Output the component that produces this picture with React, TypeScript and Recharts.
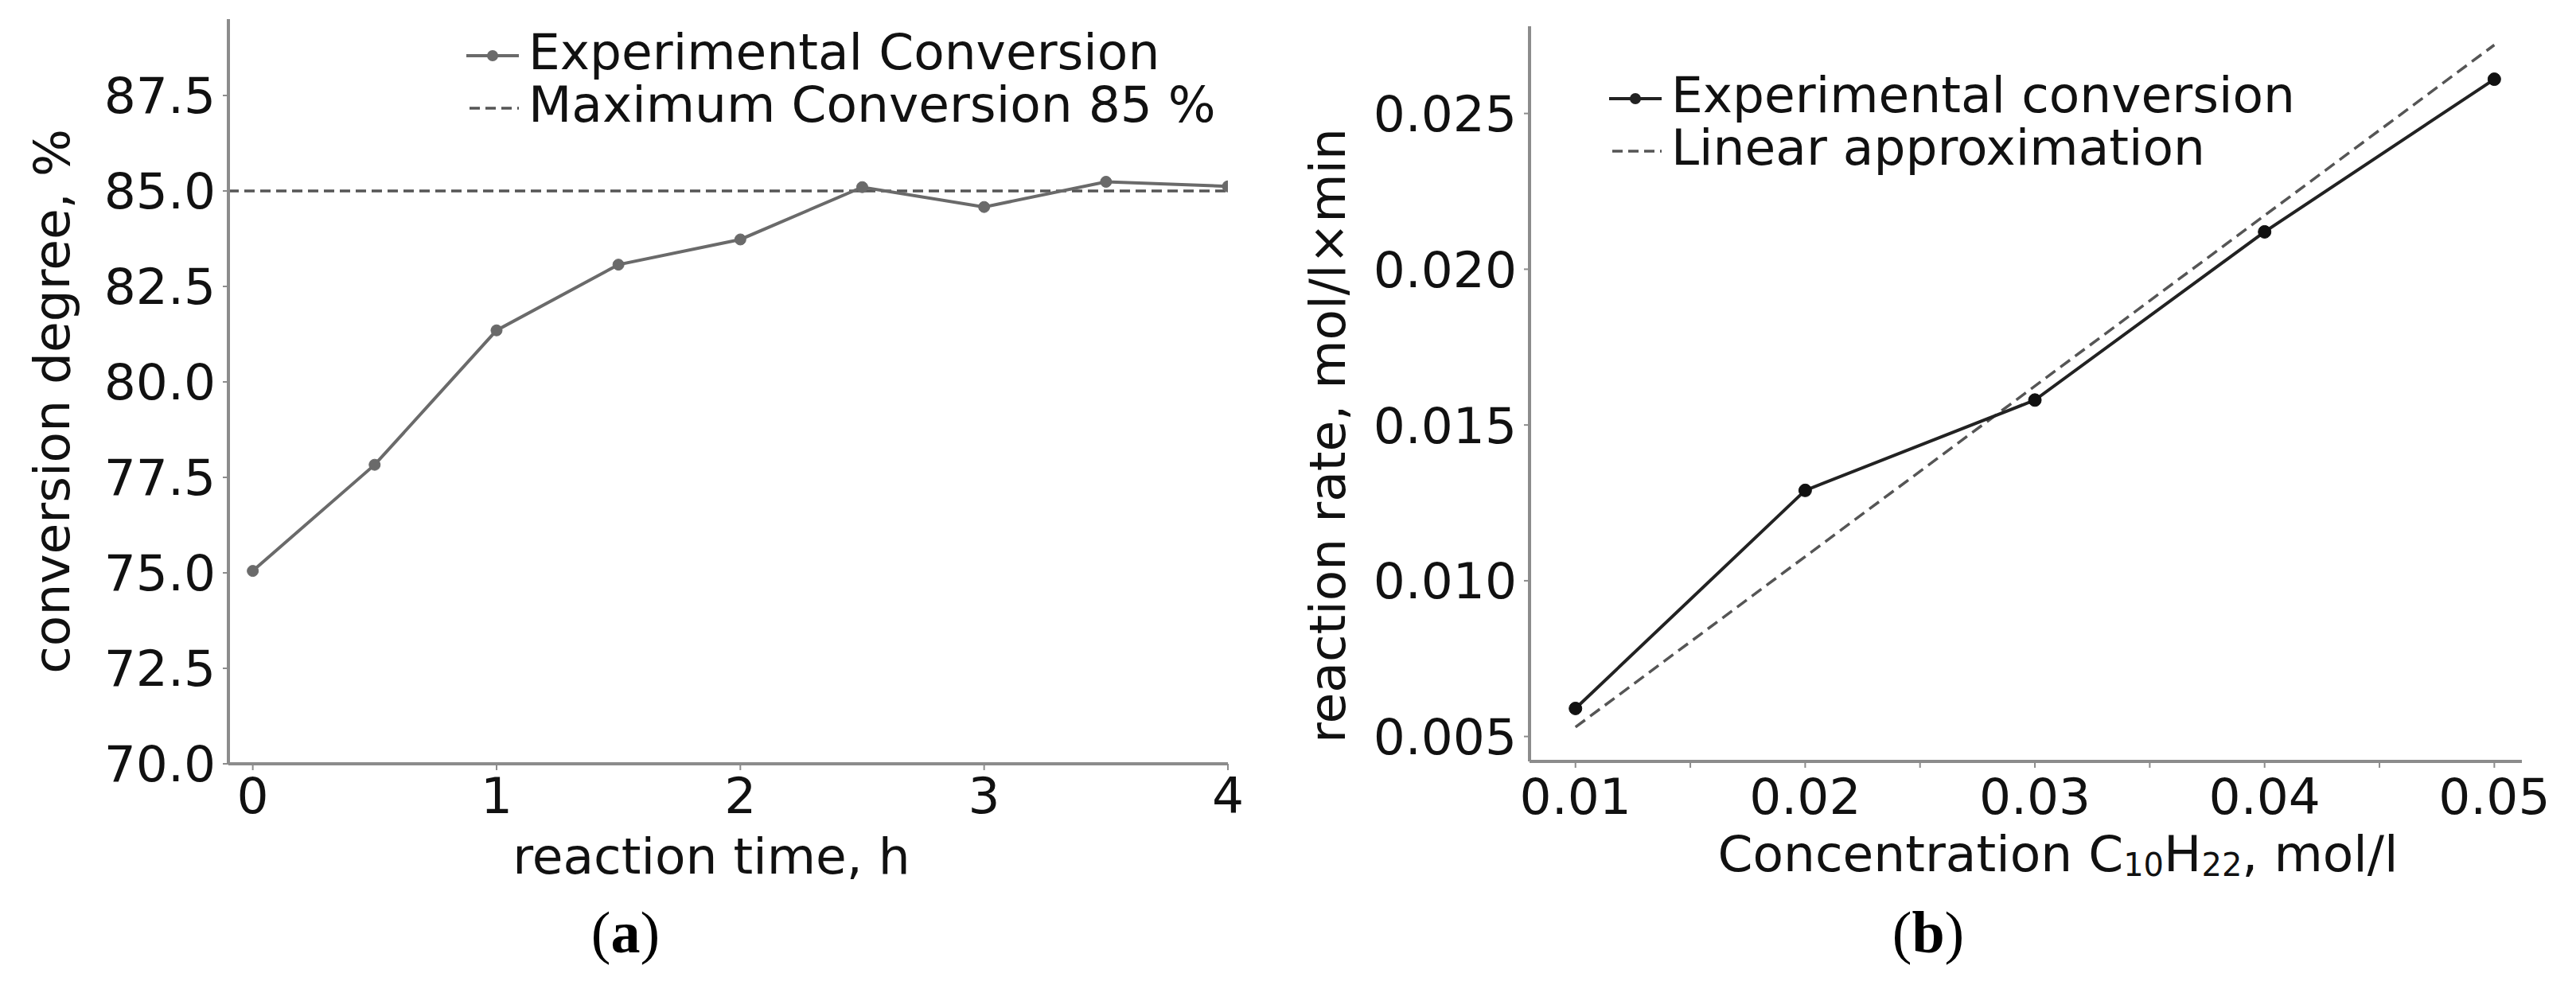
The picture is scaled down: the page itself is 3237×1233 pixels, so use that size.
import React from 'react';
import { LineChart, Line, XAxis, YAxis, ReferenceLine } from 'recharts';

// ---------- Data (a) ----------
const timeHours = [0, 0.5, 1, 1.5, 2, 2.5, 3, 3.5, 4];
const conversionPct = [75.05, 77.83, 81.35, 83.07, 83.73, 85.1, 84.58, 85.24, 85.12];
const maxConversion = 85;
const timeTicks = [0, 1, 2, 3, 4];
const convTicks = [70, 72.5, 75, 77.5, 80, 82.5, 85, 87.5];

// ---------- Data (b) ----------
const concentration = [0.01, 0.02, 0.03, 0.04, 0.05];
const reactionRate = [0.0059, 0.0129, 0.0158, 0.0212, 0.0261];
const linearX = [0.01, 0.05];
const linearY = [0.0053, 0.0272];
const concTicks = [0.01, 0.015, 0.02, 0.025, 0.03, 0.035, 0.04, 0.045, 0.05];
const rateTicks = [0.005, 0.01, 0.015, 0.02, 0.025];

const dataA = timeHours.map((t, i) => ({ t, conv: conversionPct[i] }));
const dataB = concentration.map((c, i) => ({ c, rate: reactionRate[i] }));
const dataLin = linearX.map((c, i) => ({ c, lin: linearY[i] }));

const FONT = 'DejaVu Sans';
const FS = 63;
const AXIS = '#8c8c8c';
const TXT = '#111';

const tickStyle = { fill: TXT, fontSize: FS, fontFamily: FONT };

function Txt({ left, top, children, style }: any) {
  return (
    <div
      style={{
        position: 'absolute',
        left,
        top,
        fontFamily: FONT,
        fontSize: FS,
        lineHeight: FS + 'px',
        color: TXT,
        whiteSpace: 'nowrap',
        ...style,
      }}
    >
      {children}
    </div>
  );
}

function CenterTxt({ cx, baseline, children }: any) {
  return (
    <Txt left={cx - 600} top={baseline - 53} style={{ width: 1200, textAlign: 'center' }}>
      {children}
    </Txt>
  );
}

function VertTxt({ cx, cy, children }: any) {
  return (
    <Txt
      left={cx - 600}
      top={cy - FS / 2}
      style={{ width: 1200, textAlign: 'center', transform: 'rotate(-90deg)', transformOrigin: '50% 50%' }}
    >
      {children}
    </Txt>
  );
}

function LegendRow({ left, baseline, kind, color, label }: any) {
  const markY = 36;
  return (
    <div style={{ position: 'absolute', left, top: baseline - 53, height: FS, display: 'flex', alignItems: 'flex-start' }}>
      <svg width={70} height={FS} style={{ display: 'block' }}>
        {kind === 'dot' ? (
          <g>
            <line x1={2} x2={68} y1={markY} y2={markY} stroke={color} strokeWidth={4} />
            <circle cx={35} cy={markY} r={7} fill={color} />
          </g>
        ) : (
          <line x1={6} x2={68} y1={markY} y2={markY} stroke={color} strokeWidth={3.5} strokeDasharray="13 7" />
        )}
      </svg>
      <span style={{ fontFamily: FONT, fontSize: FS, lineHeight: FS + 'px', color: TXT, whiteSpace: 'nowrap', marginLeft: 10 }}>
        {label}
      </span>
    </div>
  );
}

function Caption({ cx, letter }: any) {
  return (
    <div
      style={{
        position: 'absolute',
        left: cx - 100,
        top: 1135,
        width: 200,
        textAlign: 'center',
        fontFamily: 'Liberation Serif',
        fontSize: 74,
        lineHeight: '74px',
        color: '#000',
      }}
    >
      (<b>{letter}</b>)
    </div>
  );
}

const subStyle: any = { fontSize: 40, position: 'relative', top: 6 };

export default function App() {
  return (
    <div style={{ position: 'absolute', left: 0, top: 0, width: 3237, height: 1233, background: '#fff', overflow: 'hidden' }}>
      {/* Chart (a) */}
      <div style={{ position: 'absolute', left: 0, top: 0 }}>
        <LineChart width={1600} height={1233} data={dataA} margin={{ top: 24, left: 87, right: 57, bottom: 173 }}>
          <XAxis
            dataKey="t"
            type="number"
            domain={[-0.1, 4]}
            allowDataOverflow
            ticks={timeTicks}
            interval={0}
            height={100}
            axisLine={{ stroke: AXIS, strokeWidth: 4 }}
            tickLine={{ stroke: AXIS, strokeWidth: 2 }}
            tickSize={8}
            tickMargin={9}
            tick={tickStyle}
          />
          <YAxis
            type="number"
            domain={[70, 89.5]}
            allowDataOverflow
            ticks={convTicks}
            interval={0}
            width={200}
            axisLine={{ stroke: AXIS, strokeWidth: 4 }}
            tickLine={{ stroke: AXIS, strokeWidth: 2 }}
            tickSize={7}
            tickMargin={9}
            tick={tickStyle}
            tickFormatter={(v: number) => v.toFixed(1)}
          />
          <ReferenceLine y={maxConversion} stroke="#555" strokeWidth={3.5} strokeDasharray="13 7" />
          <Line
            type="linear"
            dataKey="conv"
            stroke="#6a6a6a"
            strokeWidth={4}
            dot={{ r: 7, fill: '#6a6a6a', stroke: '#6a6a6a', strokeWidth: 1 }}
            isAnimationActive={false}
          />
        </LineChart>
      </div>

      {/* Chart (b) */}
      <div style={{ position: 'absolute', left: 1600, top: 0 }}>
        <LineChart width={1637} height={1233} margin={{ top: 33, left: 122, right: 68, bottom: 176 }}>
          <XAxis
            dataKey="c"
            type="number"
            domain={[0.008, 0.0512]}
            allowDataOverflow
            ticks={concTicks}
            interval={0}
            height={100}
            axisLine={{ stroke: AXIS, strokeWidth: 4 }}
            tickLine={{ stroke: AXIS, strokeWidth: 2 }}
            tickSize={8}
            tickMargin={13}
            tick={tickStyle}
            tickFormatter={(v: number) => (Math.round(v * 1000) % 10 === 0 ? v.toFixed(2) : '')}
          />
          <YAxis
            type="number"
            domain={[0.0042, 0.0278]}
            allowDataOverflow
            ticks={rateTicks}
            interval={0}
            width={200}
            axisLine={{ stroke: AXIS, strokeWidth: 4 }}
            tickLine={{ stroke: AXIS, strokeWidth: 2 }}
            tickSize={7}
            tickMargin={9}
            tick={tickStyle}
            tickFormatter={(v: number) => v.toFixed(3)}
          />
          <Line
            data={dataLin}
            type="linear"
            dataKey="lin"
            stroke="#555"
            strokeWidth={3.5}
            strokeDasharray="15 8"
            dot={false}
            isAnimationActive={false}
          />
          <Line
            data={dataB}
            type="linear"
            dataKey="rate"
            stroke="#222"
            strokeWidth={4}
            dot={{ r: 8, fill: '#111', stroke: '#111', strokeWidth: 1 }}
            isAnimationActive={false}
          />
        </LineChart>
      </div>

      {/* Texts (a) */}
      <VertTxt cx={65} cy={504}>conversion degree, %</VertTxt>
      <CenterTxt cx={894} baseline={1098}>reaction time, h</CenterTxt>
      <LegendRow left={584} baseline={87} kind="dot" color="#6a6a6a" label="Experimental Conversion" />
      <LegendRow left={584} baseline={153} kind="dash" color="#555" label="Maximum Conversion 85 %" />
      <Caption cx={786} letter="a" />

      {/* Texts (b) */}
      <VertTxt cx={1668} cy={547}>reaction rate, mol/l×min</VertTxt>
      <CenterTxt cx={2586} baseline={1095}>
        Concentration C<span style={subStyle}>10</span>H<span style={subStyle}>22</span>, mol/l
      </CenterTxt>
      <LegendRow left={2020} baseline={141} kind="dot" color="#222" label="Experimental conversion" />
      <LegendRow left={2020} baseline={207} kind="dash" color="#555" label="Linear approximation" />
      <Caption cx={2423} letter="b" />
    </div>
  );
}
